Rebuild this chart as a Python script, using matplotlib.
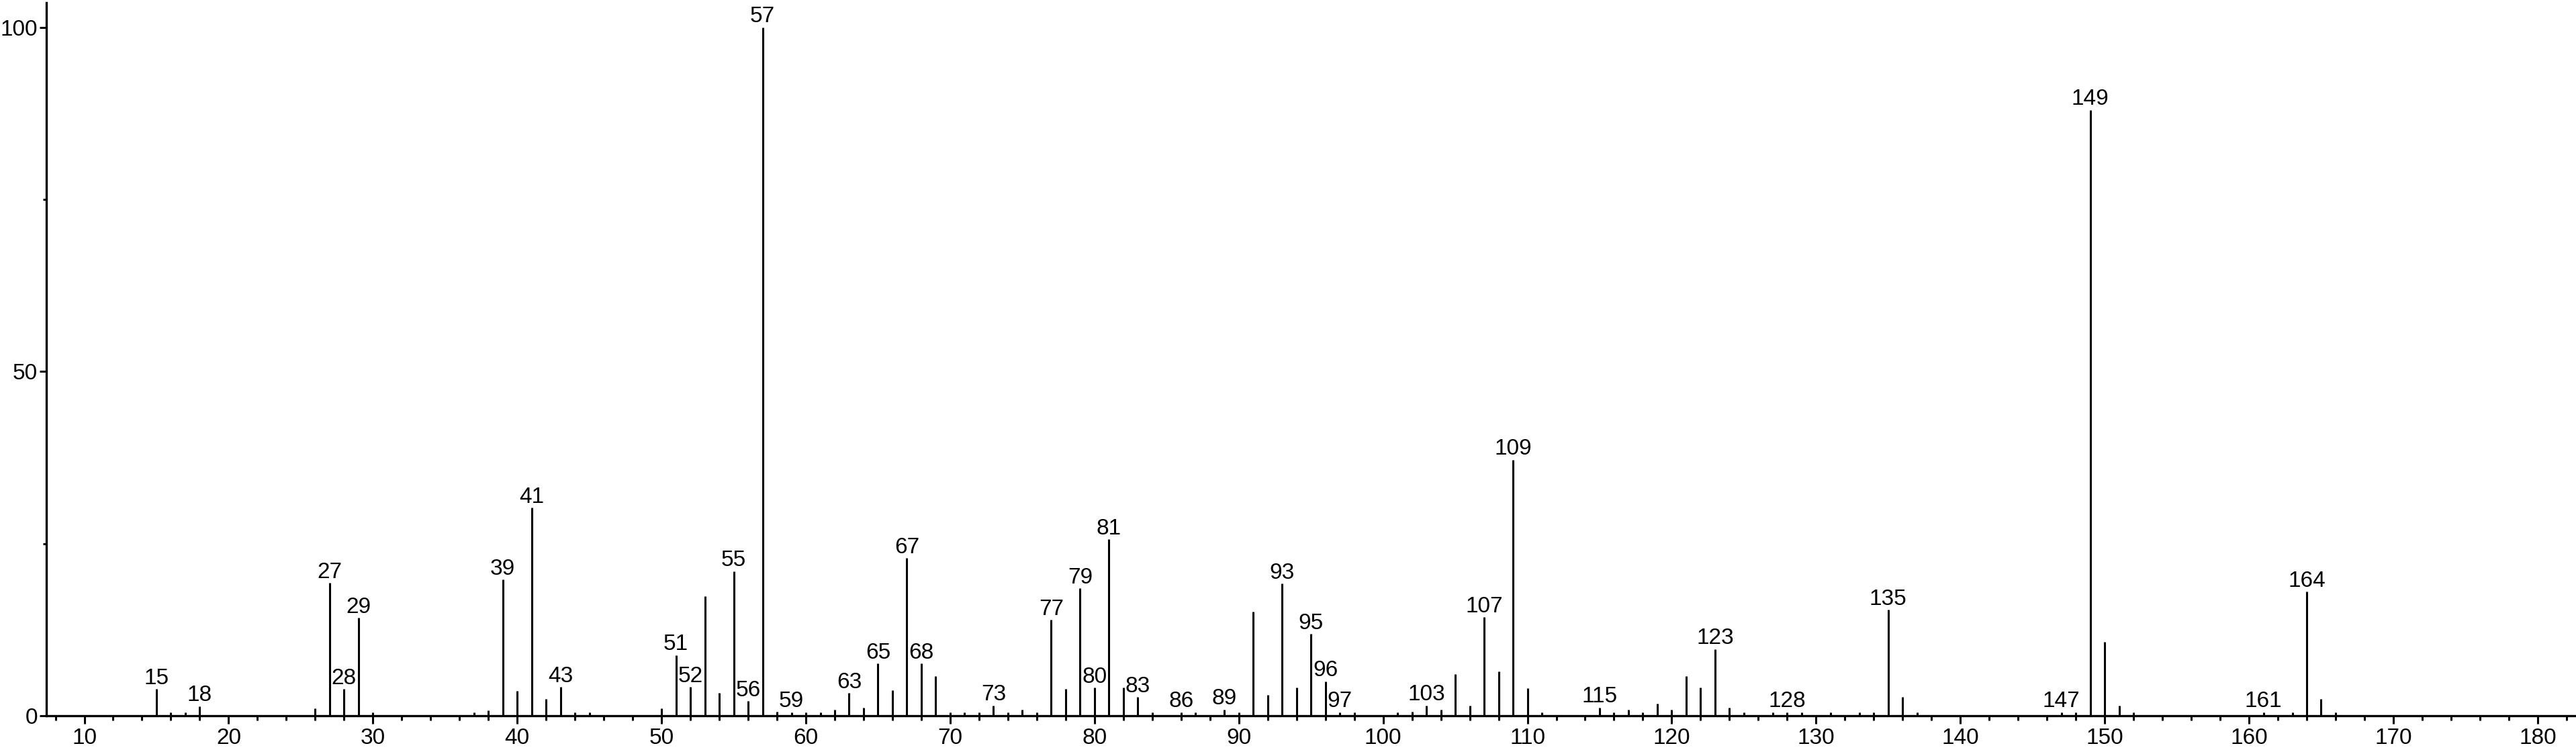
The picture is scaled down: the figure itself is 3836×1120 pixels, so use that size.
import matplotlib
matplotlib.use("Agg")
import matplotlib.pyplot as plt
from matplotlib.ticker import MultipleLocator

plt.rcParams['font.family'] = ['Liberation Sans', 'DejaVu Sans']

# m/z and relative intensity (%)
mz = [15, 16, 17, 18, 26, 27, 28, 29, 30, 37, 38, 39, 40, 41, 42, 43, 44, 45,
      50, 51, 52, 53, 54, 55, 56, 57, 58, 59, 60, 61, 62, 63, 64, 65, 66, 67,
      68, 69, 70, 71, 72, 73, 74, 75, 76, 77, 78, 79, 80, 81, 82, 83, 84, 86,
      87, 89, 90, 91, 92, 93, 94, 95, 96, 97, 98, 101, 102, 103, 104, 105,
      106, 107, 108, 109, 110, 111, 115, 116, 117, 118, 119, 120, 121, 122,
      123, 124, 125, 127, 128, 129, 131, 133, 134, 135, 136, 137, 147, 148,
      149, 150, 151, 152, 161, 163, 164, 165, 166]
intensity = [3.9, 0.5, 0.5, 1.4, 1.1, 19.3, 3.9, 14.2, 0.5, 0.5, 0.8, 19.8,
             3.6, 30.2, 2.4, 4.2, 0.5, 0.5,
             1.1, 8.8, 4.2, 17.4, 3.3, 21.0, 2.1, 100.0, 0.6, 0.5, 0.5, 0.5,
             0.9, 3.3, 1.2, 7.6, 3.7, 22.9,
             7.6, 5.8, 0.5, 0.5, 0.5, 1.5, 0.5, 0.9, 0.5, 13.9, 3.9, 18.5,
             4.1, 25.6, 4.1, 2.7, 0.5, 0.5,
             0.5, 0.9, 0.5, 15.1, 3.0, 19.2, 4.1, 11.9, 5.0, 0.5, 0.5, 0.5,
             0.6, 1.5, 0.9, 6.0,
             1.5, 14.3, 6.4, 37.2, 4.0, 0.5, 1.2, 0.5, 0.9, 0.5, 1.8, 0.9,
             5.8, 4.1,
             9.7, 1.2, 0.5, 0.5, 0.5, 0.5, 0.5, 0.5, 0.5, 15.4, 2.7, 0.5,
             0.5, 0.5,
             88.0, 10.7, 1.5, 0.5, 0.5, 0.5, 18.0, 2.4, 0.5]

# peaks that carry a m/z label
labelled = [15, 18, 27, 28, 29, 39, 41, 43, 51, 52, 55, 56, 57, 59, 63, 65,
            67, 68, 73, 77, 79, 80, 81, 83, 86, 89, 93, 95, 96, 97, 103, 107,
            109, 115, 123, 128, 135, 147, 149, 161, 164]

x_ticks = list(range(10, 181, 10))
y_ticks = [0, 50, 100]

W, H = 3836, 1120
fig = plt.figure(figsize=(W / 100, H / 100), dpi=100)
ax = fig.add_axes([69 / W, 54 / H, 1 - 69 / W, (1066 - 3.6) / H])

ax.vlines(mz, 0, intensity, color='black', linewidth=2.2)

for m, v in zip(mz, intensity):
    if m in labelled:
        ax.annotate(str(m), (m, v), xytext=(0, 0.3), textcoords='offset points',
                    ha='center', va='bottom', fontsize=24, clip_on=False)

ax.set_xlim(7.37, 182.66)
ax.set_ylim(0, 103.6)

for s in ['top', 'right']:
    ax.spines[s].set_visible(False)
for s in ['left', 'bottom']:
    ax.spines[s].set_linewidth(2.4)

ax.set_xticks(x_ticks)
ax.xaxis.set_minor_locator(MultipleLocator(2))
ax.set_yticks(y_ticks)
ax.set_yticks([25, 75], minor=True)

ax.tick_params(axis='x', which='major', length=8.6, width=2.2, pad=4.0, labelsize=24)
ax.tick_params(axis='x', which='minor', length=5, width=2.2)
ax.tick_params(axis='y', which='major', length=7.2, width=2.2, pad=2.0, labelsize=24)
ax.tick_params(axis='y', which='minor', length=3.8, width=2.2)

fig.savefig('out.png', dpi=100)
